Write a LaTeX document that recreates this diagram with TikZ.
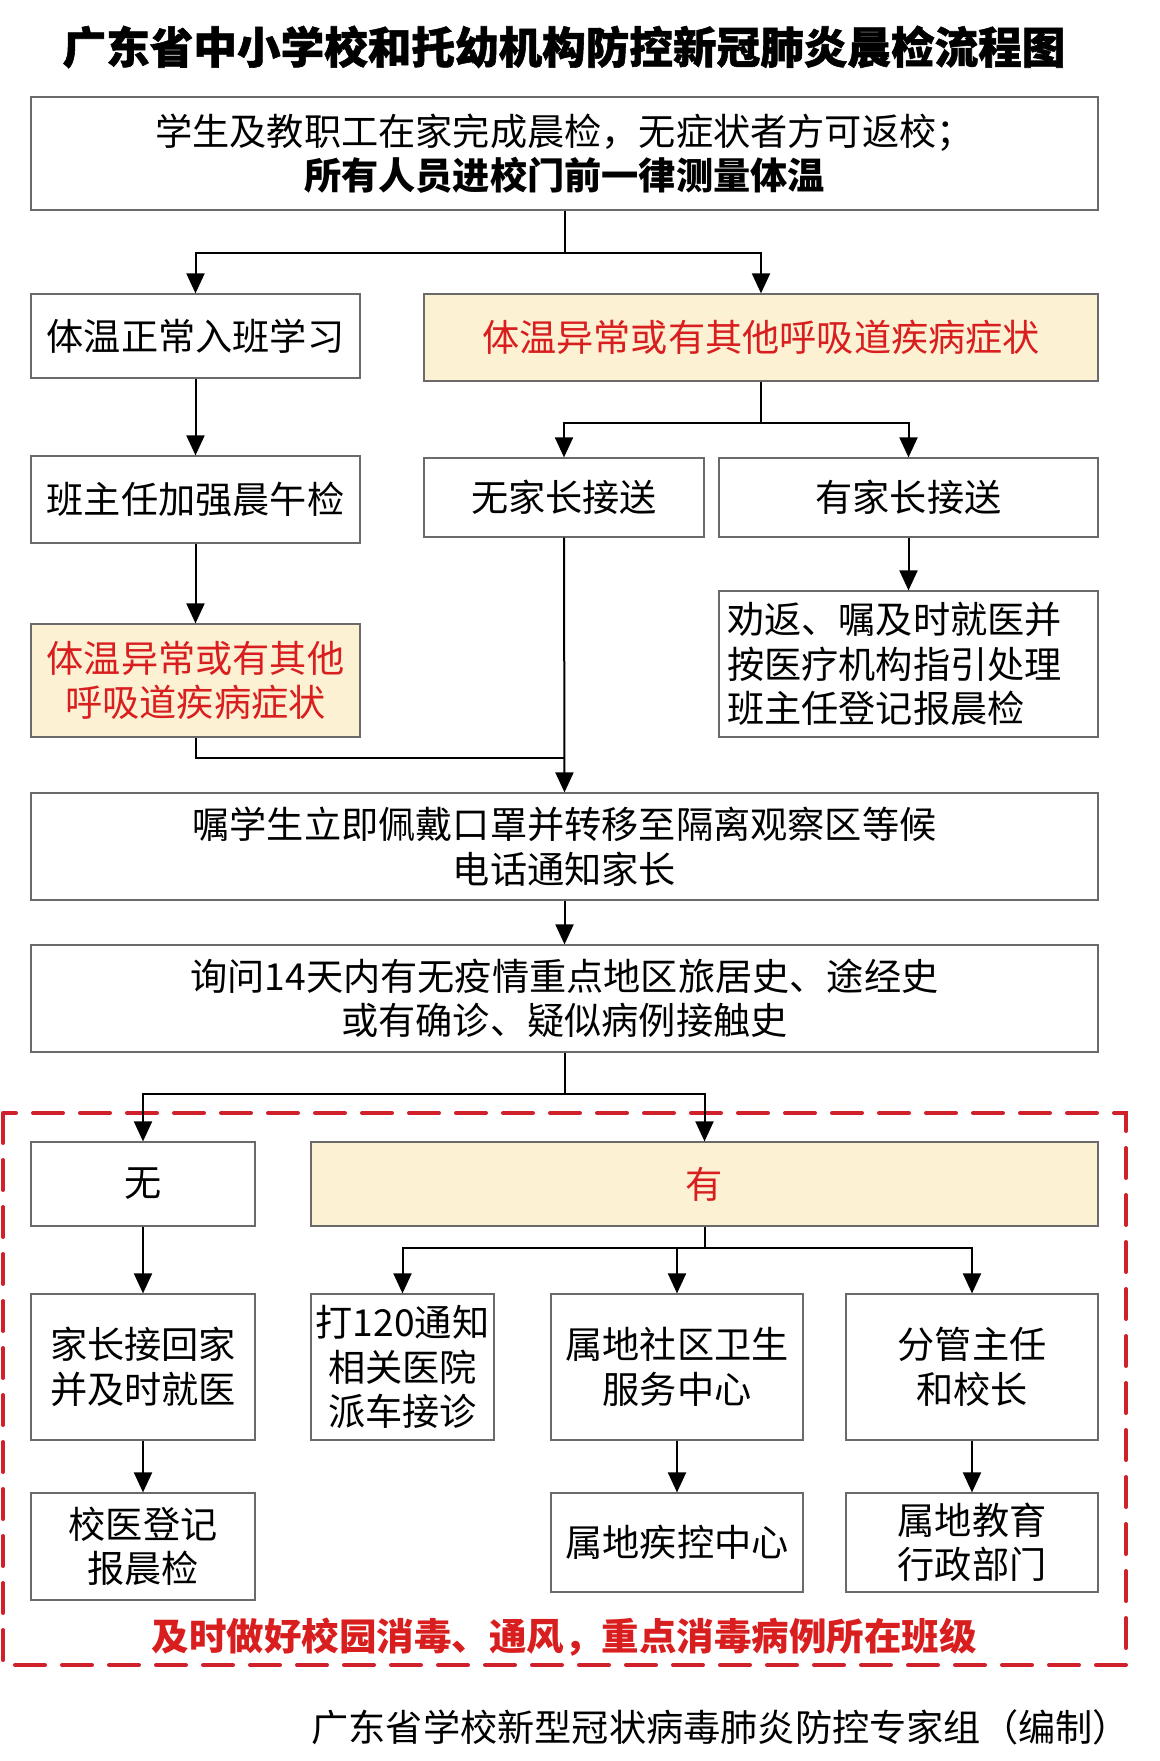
\documentclass[tikz,border=0pt]{standalone}
\usepackage{fontspec}
\setmainfont{Noto Sans CJK SC}
\newfontfamily\titlefont[BoldFeatures={FakeBold=1.3}]{Noto Sans CJK SC}
\usetikzlibrary{arrows.meta}
\definecolor{boxgray}{HTML}{6A6A6A}
\definecolor{yfill}{HTML}{FDF1D3}
\definecolor{redtxt}{HTML}{D81E1E}
\definecolor{dashred}{HTML}{D0202A}
\newcommand\fsbody{\fontsize{37.2pt}{44.5pt}\selectfont}
\tikzset{
  box/.style={draw=boxgray, line width=1.2pt, inner sep=0pt, align=center, font=\fsbody},
  ybox/.style={box, fill=yfill, text=redtxt},
  conn/.style={line width=2pt, draw=black},
  arr/.style={conn, -{Triangle[length=20pt,width=18pt]}},
  dashbox/.style={draw=dashred, line width=4pt, dash pattern=on 30pt off 17pt, line cap=round},
}
\begin{document}
\begin{tikzpicture}[x=1pt,y=-1pt]
\useasboundingbox (0,0) rectangle (1159,1761);
% title
\node[font=\fontsize{43.6pt}{50pt}\titlefont\bfseries, inner sep=0pt] (title) at (564,47) {广东省中小学校和托幼机构防控新冠肺炎晨检流程图};
% boxes
\node[box, minimum width=1067pt, minimum height=113pt] (b1) at (564.5,153.5) {学生及教职工在家完成晨检，无症状者方可返校；\\\textbf{所有人员进校门前一律测量体温}};
\node[box, minimum width=329pt, minimum height=84pt] (n1) at (195.5,336) {体温正常入班学习};
\node[ybox, minimum width=674pt, minimum height=87pt] (y1) at (761,337.5) {体温异常或有其他呼吸道疾病症状};
\node[box, minimum width=329pt, minimum height=87pt] (n2) at (195.5,499.5) {班主任加强晨午检};
\node[box, minimum width=280pt, minimum height=79pt] (nj) at (564,497.5) {无家长接送};
\node[box, minimum width=379pt, minimum height=79pt] (yj) at (908.5,497.5) {有家长接送};
\node[ybox, minimum width=329pt, minimum height=113pt] (y2) at (195.5,680.5) {体温异常或有其他\\呼吸道疾病症状};
\node[box, minimum width=379pt, minimum height=146pt, text width=363pt, align=left] (q1) at (908.5,664) {劝返、嘱及时就医并\\按医疗机构指引处理\\班主任登记报晨检};
\node[box, minimum width=1067pt, minimum height=107pt] (b5) at (564.5,846.5) {嘱学生立即佩戴口罩并转移至隔离观察区等候\\电话通知家长};
\node[box, minimum width=1067pt, minimum height=107pt] (b6) at (564.5,998.5) {询问14天内有无疫情重点地区旅居史、途经史\\或有确诊、疑似病例接触史};
\node[box, minimum width=224pt, minimum height=84pt] (wu) at (143,1184) {无};
\node[ybox, minimum width=787pt, minimum height=84pt] (you) at (704.5,1184) {有};
\node[box, minimum width=224pt, minimum height=146pt] (c1) at (143,1367) {家长接回家\\并及时就医};
\node[box, minimum width=183pt, minimum height=146pt] (c2) at (402.5,1367) {打120通知\\相关医院\\派车接诊};
\node[box, minimum width=252pt, minimum height=146pt] (c3) at (677,1367) {属地社区卫生\\服务中心};
\node[box, minimum width=252pt, minimum height=146pt] (c4) at (972,1367) {分管主任\\和校长};
\node[box, minimum width=224pt, minimum height=107pt] (d1) at (143,1546.5) {校医登记\\报晨检};
\node[box, minimum width=252pt, minimum height=99pt] (d3) at (677,1542.5) {属地疾控中心};
\node[box, minimum width=252pt, minimum height=99pt] (d4) at (972,1542.5) {属地教育\\行政部门};
% dashed region
\draw[dashbox] (3,1113) rectangle (1126,1665);
\node[font=\fontsize{37.5pt}{44pt}\selectfont\bfseries, text=redtxt, inner sep=0pt] (note) at (564,1637) {及时做好校园消毒、通风，重点消毒病例所在班级};
\node[font=\fontsize{37.2pt}{44pt}\selectfont, anchor=east, inner sep=0pt] (foot) at (1130,1727) {广东省学校新型冠状病毒肺炎防控专家组（编制）};
% connectors
\coordinate (j1) at (564.5,253);
\draw[conn] (b1.south) -- (j1);
\draw[arr] (j1) -| (n1.north);
\draw[arr] (j1) -| (y1.north);
\draw[arr] (n1.south) -- (n2.north);
\draw[arr] (n2.south) -- (y2.north);
\coordinate (j2) at (761,423);
\draw[conn] (y1.south) -- (j2);
\draw[arr] (j2) -| (nj.north);
\draw[arr] (j2) -| (yj.north);
\draw[arr] (yj.south) -- (q1.north);
\coordinate (j3) at (564,758);
\draw[conn] (y2.south) |- (j3);
\draw[arr] (nj.south) -- (b5.north);
\draw[arr] (b5.south) -- (b6.north);
\coordinate (j4) at (564.5,1094);
\draw[conn] (b6.south) -- (j4);
\draw[arr] (j4) -| (wu.north);
\draw[arr] (j4) -| (you.north);
\coordinate (j5) at (704.5,1248);
\draw[conn] (you.south) -- (j5);
\draw[arr] (j5) -| (c2.north);
\draw[arr] (j5) -| (c3.north);
\draw[arr] (j5) -| (c4.north);
\draw[arr] (wu.south) -- (c1.north);
\draw[arr] (c1.south) -- (d1.north);
\draw[arr] (c3.south) -- (d3.north);
\draw[arr] (c4.south) -- (d4.north);
\end{tikzpicture}
\end{document}
